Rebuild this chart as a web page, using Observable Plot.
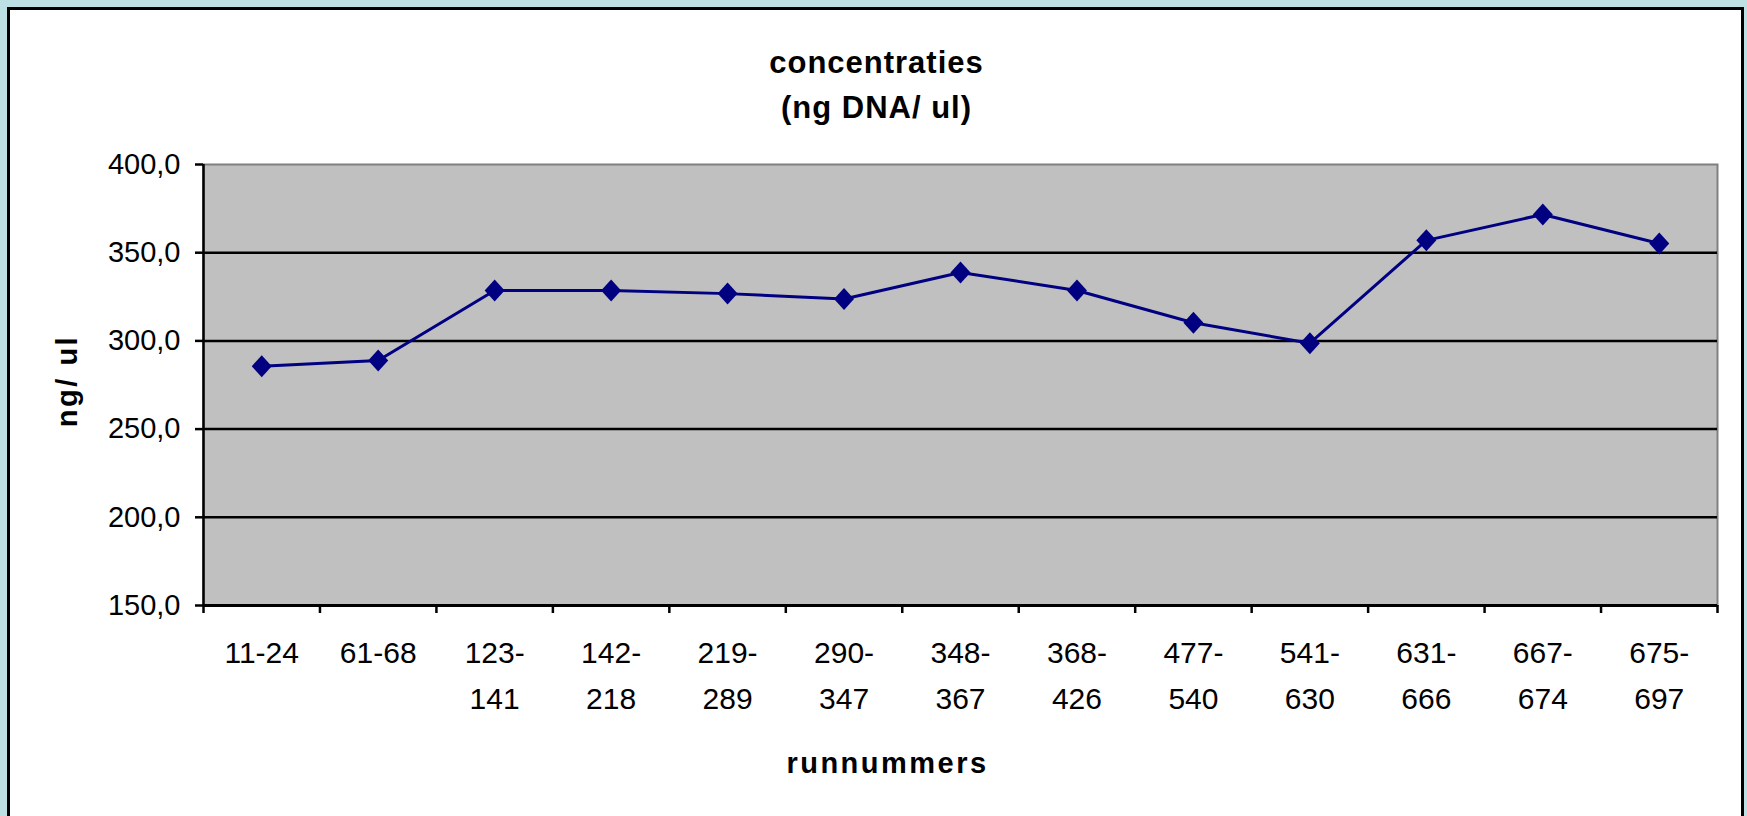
<!DOCTYPE html>
<html>
<head>
<meta charset="utf-8">
<script src="https://cdn.jsdelivr.net/npm/d3@7"></script>
<script src="https://cdn.jsdelivr.net/npm/@observablehq/plot@0.6"></script>
<style>
  html, body { margin: 0; padding: 0; }
  body { width: 1747px; height: 816px; overflow: hidden; background: #bce0e4; position: relative; font-family: "Liberation Sans", Arial, sans-serif; }
  #frame { position: absolute; left: 7px; top: 7px; width: 1737px; height: 830px; box-sizing: border-box; border: 3px solid #000; background: #fff; }
  #title { position: absolute; left: 10px; width: 1733px; top: 40px; text-align: center; font: bold 31px "Liberation Sans", Arial, sans-serif; line-height: 45px; letter-spacing: 1px; color: #000; }
  #chart { position: absolute; left: 0; top: 0; }
</style>
</head>
<body>
<div id="frame"></div>
<div id="title">concentraties<br>(ng DNA/ ul)</div>
<div id="chart"></div>
<script>
const categories = ["11-24","61-68","123-141","142-218","219-289","290-347","348-367","368-426","477-540","541-630","631-666","667-674","675-697"];
const tickLabels = ["11-24","61-68","123-\n141","142-\n218","219-\n289","290-\n347","348-\n367","368-\n426","477-\n540","541-\n630","631-\n666","667-\n674","675-\n697"];
const values = [285.6, 288.9, 328.6, 328.6, 326.8, 323.8, 338.8, 328.6, 310.3, 298.7, 357.0, 371.7, 355.2];
const yTicks = [150, 200, 250, 300, 350, 400];
const gridValues = [200, 250, 300, 350];
const yTitle = "ng/ ul";
const xTitle = "runnummers";

const data = categories.map((c, i) => ({cat: c, pos: i + 0.5, value: values[i]}));
const boundaries = d3.range(categories.length + 1);
const labelPositions = categories.map((c, i) => i + 0.5);

const diamond = {
  draw(ctx, size) {
    const r = Math.sqrt(size / Math.PI);
    ctx.moveTo(0, -r * 1.1);
    ctx.lineTo(r, 0);
    ctx.lineTo(0, r * 1.1);
    ctx.lineTo(-r, 0);
    ctx.closePath();
  }
};

const plot = Plot.plot({
  width: 1747,
  height: 816,
  marginLeft: 203,
  marginRight: 30,
  marginTop: 164,
  marginBottom: 211,
  style: {fontFamily: "'Liberation Sans', Arial, sans-serif", fontSize: "29px", background: "transparent", color: "#000", overflow: "visible"},
  x: {type: "linear", domain: [0, categories.length], axis: null},
  y: {domain: [150, 400], axis: null},
  marks: [
    Plot.frame({fill: "#c0c0c0", stroke: "#808080", strokeWidth: 2}),
    Plot.ruleY(gridValues, {stroke: "#000", strokeWidth: 2.5}),
    Plot.ruleX([0], {stroke: "#000", strokeWidth: 2.5}),
    Plot.ruleY([150], {stroke: "#000", strokeWidth: 3}),
    Plot.axisY({ticks: yTicks, tickFormat: d => d.toFixed(1).replace(".", ","), tickSize: 8, tickPadding: 15, fontSize: 29, strokeWidth: 2.5, label: null}),
    Plot.axisX({ticks: boundaries, tickFormat: () => "", tickSize: 8, strokeWidth: 2.5, label: null}),
    Plot.axisX({ticks: labelPositions, tickFormat: d => tickLabels[Math.floor(d)], tickSize: 0, tickPadding: 24, lineHeight: 1.55, fontSize: 30, label: null}),
    Plot.line(data, {x: "pos", y: "value", stroke: "#000080", strokeWidth: 3}),
    Plot.dot(data, {x: "pos", y: "value", symbol: diamond, r: 10, fill: "#000080", stroke: "none"}),
    Plot.text([yTitle], {frameAnchor: "left", dx: -135.5, dy: -4, rotate: -90, textAnchor: "middle", lineAnchor: "middle", fontWeight: "bold", fontSize: 29}),
    Plot.text([xTitle], {frameAnchor: "bottom", dx: -73, dy: 158, textAnchor: "middle", lineAnchor: "middle", fontWeight: "bold", fontSize: 29})
  ]
});

d3.select(plot).selectAll("text").each(function() {
  const t = this.textContent;
  if (t === xTitle) this.setAttribute("letter-spacing", "2.5px");
  if (t === yTitle) this.setAttribute("letter-spacing", "2.5px");
});

document.getElementById("chart").appendChild(plot);
</script>
</body>
</html>
